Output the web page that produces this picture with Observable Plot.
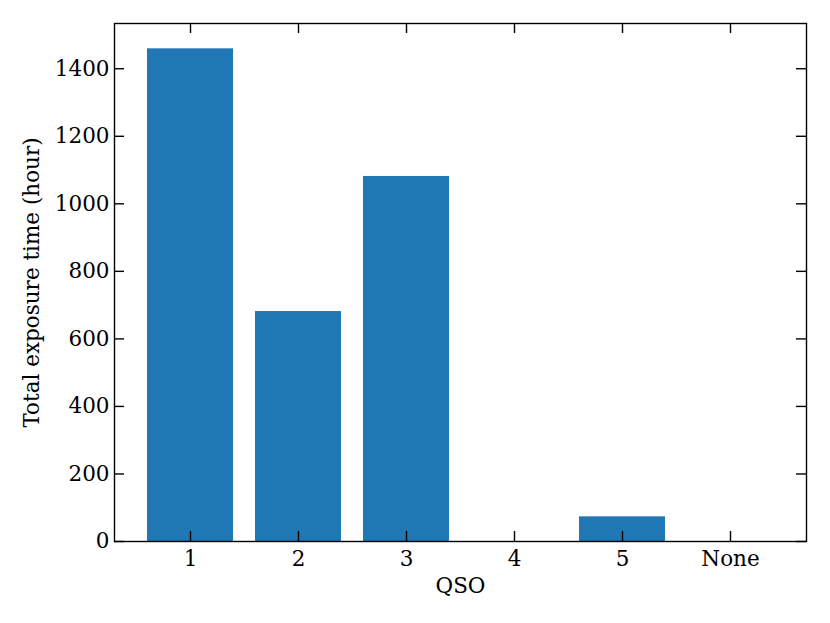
<!DOCTYPE html>
<html>
<head>
<meta charset="utf-8">
<script src="https://cdn.jsdelivr.net/npm/d3@7"></script>
<script src="https://cdn.jsdelivr.net/npm/@observablehq/plot@0.6"></script>
<style>
  html, body { margin: 0; padding: 0; background: #fff; }
  svg { display: block; }
</style>
</head>
<body>
<div id="chart"></div>
<script>
const categories = ["1", "2", "3", "4", "5", "None"];
const exposureHours = [1459, 681, 1081, 0, 73, 0];
const yTicks = [0, 200, 400, 600, 800, 1000, 1200, 1400];
const xLabel = "QSO";
const yLabel = "Total exposure time (hour)";

const data = categories.map((c, i) => ({qso: c, hours: exposureHours[i]}));

const W = 830, H = 623;
const mL = 114, mR = 24, mT = 23, mB = 82;
const fw = W - mL - mR, fh = H - mT - mB;
const tickLen = 10;
const font = "DejaVu Serif";
const fs = 21.5;

const chart = Plot.plot({
  width: W,
  height: H,
  marginLeft: mL,
  marginRight: mR,
  marginTop: mT,
  marginBottom: mB,
  style: {fontFamily: font, fontSize: fs + "px", color: "#000", background: "#fff"},
  x: {type: "band", domain: categories, paddingInner: 0.2, paddingOuter: 0.29, align: 0.5, label: null},
  y: {domain: [0, 1534], label: null},
  marks: [
    Plot.barY(data, {x: "qso", y: "hours", fill: "#1f77b4"}),
    Plot.axisX({ticks: categories, tickSize: 0, tickPadding: 9, label: null, fontSize: fs, fill: "#000"}),
    Plot.axisY({ticks: yTicks, tickFormat: d3.format("d"), tickSize: 0, tickPadding: 5, label: null, fontSize: fs, fill: "#000"}),
    // inward tick marks on all four sides
    Plot.ruleY(yTicks, {y: d => d, insetRight: fw - tickLen, stroke: "#000", strokeWidth: 1.4}),
    Plot.ruleY(yTicks, {y: d => d, insetLeft: fw - tickLen, stroke: "#000", strokeWidth: 1.4}),
    Plot.ruleX(categories, {x: d => d, insetTop: fh - tickLen, stroke: "#000", strokeWidth: 1.4}),
    Plot.ruleX(categories, {x: d => d, insetBottom: fh - tickLen, stroke: "#000", strokeWidth: 1.4}),
    Plot.frame({stroke: "#000", strokeWidth: 1.4}),
    Plot.text([xLabel], {frameAnchor: "bottom", dy: 45, text: d => d, fontSize: fs, fill: "#000", textAnchor: "middle", lineAnchor: "middle"}),
    Plot.text([yLabel], {frameAnchor: "left", dx: -82, rotate: -90, text: d => d, fontSize: fs, fill: "#000", textAnchor: "middle", lineAnchor: "middle"})
  ]
});
document.getElementById("chart").appendChild(chart);
</script>
</body>
</html>
